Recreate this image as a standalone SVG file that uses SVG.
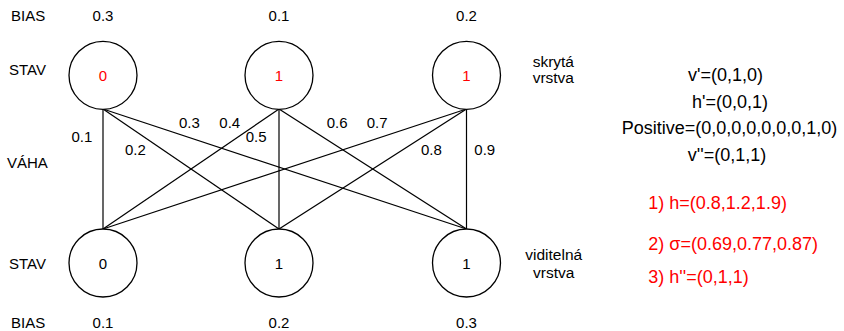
<svg xmlns="http://www.w3.org/2000/svg" width="844" height="331" viewBox="0 0 844 331">
  <style>
    text { font-family: "Liberation Sans", Arial, sans-serif; fill: #000; }
    .lbl { font-size: 15px; }
    .layer { font-size: 15.5px; text-anchor: middle; }
    .num { font-size: 15px; text-anchor: middle; }
    .red { fill: #ff0000; }
    .calc { font-size: 18px; text-anchor: middle; }
    .step { font-size: 18px; fill: #ff0000; }
    circle { fill: #fff; stroke: #000; stroke-width: 1.3; }
    .edges line { stroke: #000; stroke-width: 1.2; }
  </style>
  <rect width="844" height="331" fill="#fff"/>

  <!-- weights: every hidden unit linked to every visible unit -->
  <g id="connectors" class="edges">
    <line x1="103" y1="109" x2="103" y2="229"/>
    <line x1="103" y1="109" x2="279" y2="229"/>
    <line x1="103" y1="109" x2="466.5" y2="229"/>
    <line x1="279" y1="109" x2="103" y2="229"/>
    <line x1="279" y1="109" x2="279" y2="229"/>
    <line x1="279" y1="109" x2="466.5" y2="229"/>
    <line x1="466.5" y1="109" x2="103" y2="229"/>
    <line x1="466.5" y1="109" x2="279" y2="229"/>
    <line x1="466.5" y1="109" x2="466.5" y2="229"/>
  </g>

  <!-- hidden layer -->
  <g id="hidden-1"><circle cx="103" cy="75.3" r="34"/><text class="num red" x="103" y="81">0</text></g>
  <g id="hidden-2"><circle cx="279" cy="75.3" r="34"/><text class="num red" x="279" y="81">1</text></g>
  <g id="hidden-3"><circle cx="466.5" cy="75.3" r="34"/><text class="num red" x="466.5" y="81">1</text></g>

  <!-- visible layer -->
  <g id="visible-1"><circle cx="103" cy="263" r="34"/><text class="num" x="103" y="269">0</text></g>
  <g id="visible-2"><circle cx="279" cy="263" r="34"/><text class="num" x="279" y="269">1</text></g>
  <g id="visible-3"><circle cx="466.5" cy="263" r="34"/><text class="num" x="466.5" y="269">1</text></g>

  <!-- row captions -->
  <g id="captions">
    <text class="lbl" x="11" y="21">BIAS</text>
    <text class="lbl" x="9" y="75">STAV</text>
    <text class="lbl" x="7" y="168">VÁHA</text>
    <text class="lbl" x="9" y="269">STAV</text>
    <text class="lbl" x="11" y="327.5">BIAS</text>
  </g>

  <!-- biases -->
  <g id="biases">
    <text class="num" x="103" y="21">0.3</text>
    <text class="num" x="279" y="21">0.1</text>
    <text class="num" x="466.5" y="21">0.2</text>
    <text class="num" x="103" y="327.5">0.1</text>
    <text class="num" x="279" y="327.5">0.2</text>
    <text class="num" x="466.5" y="327.5">0.3</text>
  </g>

  <!-- weight labels -->
  <g id="weights" class="lbl">
    <text x="71.5" y="142">0.1</text>
    <text x="125" y="155">0.2</text>
    <text x="179" y="127.5">0.3</text>
    <text x="219.3" y="127.5">0.4</text>
    <text x="245.7" y="142">0.5</text>
    <text x="326.7" y="127.5">0.6</text>
    <text x="366.7" y="127.5">0.7</text>
    <text x="421" y="155">0.8</text>
    <text x="474.3" y="155">0.9</text>
  </g>

  <!-- layer names -->
  <g id="layer-names">
    <text class="layer" x="553.3" y="66.7">skrytá</text>
    <text class="layer" x="553.3" y="83.3">vrstva</text>
    <text class="layer" x="553.7" y="260">viditelná</text>
    <text class="layer" x="553.7" y="277.5">vrstva</text>
  </g>

  <!-- worked example -->
  <g id="example">
    <text class="calc" x="725.5" y="81">v'=(0,1,0)</text>
    <text class="calc" x="730" y="108">h'=(0,0,1)</text>
    <text class="calc" x="729.5" y="134">Positive=(0,0,0,0,0,0,0,1,0)</text>
    <text class="calc" x="727" y="161">v''=(0,1,1)</text>
    <text class="step" x="648.3" y="209">1) h=(0.8,1.2,1.9)</text>
    <text class="step" x="648.3" y="250">2) σ=(0.69,0.77,0.87)</text>
    <text class="step" x="648.3" y="283">3) h''=(0,1,1)</text>
  </g>
</svg>
